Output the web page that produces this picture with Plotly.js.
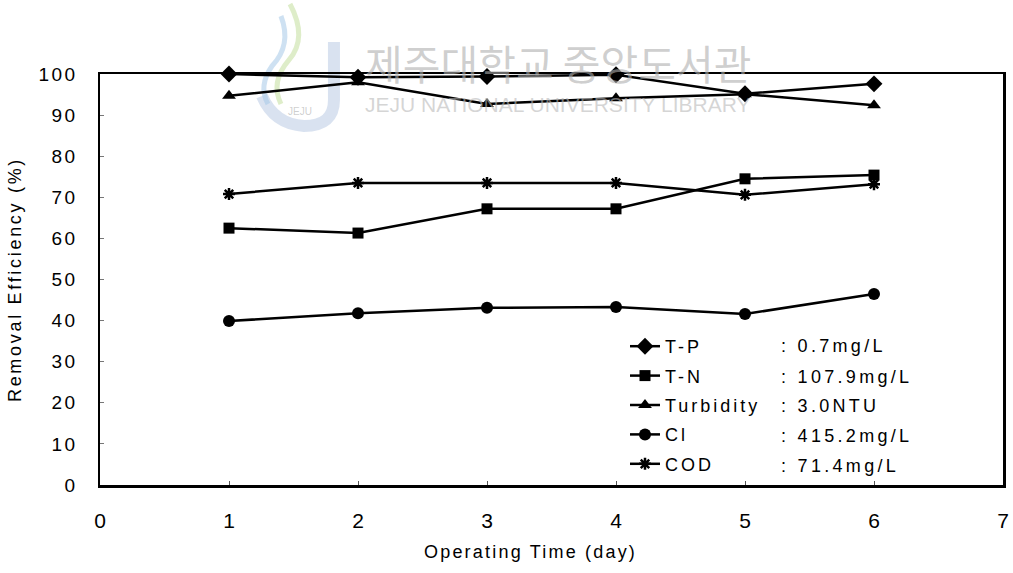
<!DOCTYPE html>
<html>
<head>
<meta charset="utf-8">
<script src="https://cdn.plot.ly/plotly-3.0.1.min.js"></script>
<style>
html,body{margin:0;padding:0;background:#fff;}
#chart{width:1013px;height:573px;}
.ytitle{letter-spacing:2.7px;}
.ytick text{letter-spacing:2.5px;}
.legendtext{letter-spacing:3px;}
.annotation.info .annotation-text{letter-spacing:3.3px;}
.annotation.xt .annotation-text{letter-spacing:2.2px;}
</style>
</head>
<body>
<div id="chart"></div>
<script>
// ---- data ----
var days = [1, 2, 3, 4, 5, 6];
var tp = [100, 99.2, 99.4, 99.8, 95.2, 97.6];
var tn = [62.5, 61.3, 67.2, 67.2, 74.5, 75.4];
var turbidity = [94.7, 98.0, 92.7, 94.1, 95.1, 92.4];
var cl = [39.9, 41.8, 43.1, 43.3, 41.6, 46.5];
var cod = [70.8, 73.5, 73.5, 73.5, 70.6, 73.2];

var seriesNames = ["T-P", "T-N", "Turbidity", "Cl", "COD"];
var seriesInfo = [": 0.7mg/L", ": 107.9mg/L", ": 3.0NTU", ": 415.2mg/L", ": 71.4mg/L"];
var xTicks = [0, 1, 2, 3, 4, 5, 6, 7];
var yTicks = [0, 10, 20, 30, 40, 50, 60, 70, 80, 90, 100];

var FONT = "Liberation Sans, Arial, sans-serif";
var NARROW = "Liberation Sans Narrow, Liberation Sans, sans-serif";
var black = "#000000";

function tr(y, name, symbol, size, grp, extra) {
  var m = {symbol: symbol, size: size, color: black, line: {color: black, width: 0}};
  if (extra) for (var k in extra) m[k] = extra[k];
  return {
    x: days, y: y, name: name, type: "scatter", mode: "lines+markers",
    line: {color: black, width: 2.5},
    marker: m, legendgroup: grp, cliponaxis: false
  };
}

var data = [
  tr(tp, seriesNames[0], "diamond", 13, "a"),
  tr(tn, seriesNames[1], "square", 11, "b"),
  tr(turbidity, seriesNames[2], "triangle-up", 12, "c"),
  tr(cl, seriesNames[3], "circle", 12, "d"),
  tr(cod, seriesNames[4], "asterisk-open", 10, "e", {line: {color: black, width: 2.5}})
];

// pixel -> paper helpers (plot area: x 100..1003, y 74..485)
function px(x) { return (x - 100) / 903; }
function py(y) { return (485 - y) / 411; }
function path(cmds) {
  return cmds.map(function (c) {
    var s = c[0];
    for (var i = 1; i < c.length; i += 2) s += (i > 1 ? " " : "") + px(c[i]).toFixed(4) + "," + py(c[i + 1]).toFixed(4);
    return s;
  }).join(" ");
}

var legendRowsY = [346, 377, 406, 436, 466];
var annotations = [];
for (var i = 0; i < seriesInfo.length; i++) {
  annotations.push({
    xref: "paper", yref: "paper",
    x: px(779), y: py(legendRowsY[i]),
    xanchor: "left", yanchor: "middle", align: "left", showarrow: false,
    text: seriesInfo[i], font: {family: FONT, size: 18, color: black}
  });
}
// watermark
annotations.push({
  xref: "paper", yref: "paper", x: px(558), y: py(62),
  xanchor: "center", yanchor: "middle", showarrow: false,
  text: "제주대학교 중앙도서관",
  font: {family: "Noto Sans CJK KR, sans-serif", size: 41, color: "rgba(175,175,175,0.6)"}
});
annotations.push({
  xref: "paper", yref: "paper", x: px(558), y: py(104),
  xanchor: "center", yanchor: "middle", showarrow: false,
  text: "JEJU NATIONAL UNIVERSITY LIBRARY",
  font: {family: NARROW, size: 21, color: "rgba(185,185,185,0.6)"}
});
annotations.push({
  xref: "paper", yref: "paper", x: px(300), y: py(111),
  xanchor: "center", yanchor: "middle", showarrow: false,
  text: "JEJU", font: {family: NARROW, size: 10, color: "rgba(175,175,175,0.6)"}
});
// x-axis title
annotations.push({
  xref: "paper", yref: "paper", x: px(530), y: py(552),
  xanchor: "center", yanchor: "middle", showarrow: false,
  text: "Operating Time (day)", font: {family: FONT, size: 18, color: black}
});

// faint library logo
var shapes = [
  {type: "path", xref: "paper", yref: "paper", layer: "below",
   path: path([["M", 334, 42], ["L", 334, 100], ["Q", 334, 126, 304, 126], ["Q", 274, 124, 262, 96]]),
   line: {color: "rgba(185,202,228,0.55)", width: 12}},
  {type: "path", xref: "paper", yref: "paper", layer: "below",
   path: path([["M", 290, 4], ["Q", 308, 38, 289, 60], ["Q", 270, 82, 281, 104]]),
   line: {color: "rgba(200,225,165,0.6)", width: 5}},
  {type: "path", xref: "paper", yref: "paper", layer: "below",
   path: path([["M", 281, 16], ["Q", 292, 45, 272, 66], ["Q", 258, 86, 268, 104]]),
   line: {color: "rgba(165,200,232,0.55)", width: 5}}
];

var layout = {
  width: 1013, height: 573,
  margin: {l: 100, r: 10, t: 74, b: 88, pad: 0},
  paper_bgcolor: "#ffffff", plot_bgcolor: "rgba(0,0,0,0)",
  font: {family: FONT, size: 18, color: black},
  showlegend: true,
  legend: {
    x: px(625), y: py(328), xanchor: "left", yanchor: "top",
    bgcolor: "rgba(0,0,0,0)", borderwidth: 0,
    font: {family: FONT, size: 18, color: black},
    traceorder: "grouped", tracegroupgap: 3, itemwidth: 30
  },
  xaxis: {
    range: [0, 7], tickvals: xTicks, ticktext: xTicks.map(String),
    showgrid: false, zeroline: false,
    showline: true, linecolor: black, linewidth: 2.5, mirror: true,
    ticks: "inside", ticklen: 4, tickcolor: "#555", tickwidth: 1,
    ticklabelstandoff: 15,
    tickfont: {family: NARROW, size: 21, color: black}
  },
  yaxis: {
    range: [0, 100], tickvals: yTicks, ticktext: yTicks.map(String),
    showgrid: false, zeroline: false,
    showline: true, linecolor: black, linewidth: 2.5, mirror: true,
    ticks: "inside", ticklen: 4, tickcolor: "#777", tickwidth: 1,
    ticklabelstandoff: 16,
    tickfont: {family: FONT, size: 19, color: black},
    title: {text: "Removal Efficiency (%)", font: {family: FONT, size: 18, color: black}, standoff: 12}
  },
  shapes: shapes,
  annotations: annotations
};

Plotly.newPlot("chart", data, layout, {displayModeBar: false, staticPlot: true}).then(function () {
  var groups = document.querySelectorAll(".annotation");
  groups.forEach(function (g, idx) {
    if (idx < seriesInfo.length) g.classList.add("info");
    if (idx === groups.length - 1) g.classList.add("xt");
  });
});
</script>
</body>
</html>
